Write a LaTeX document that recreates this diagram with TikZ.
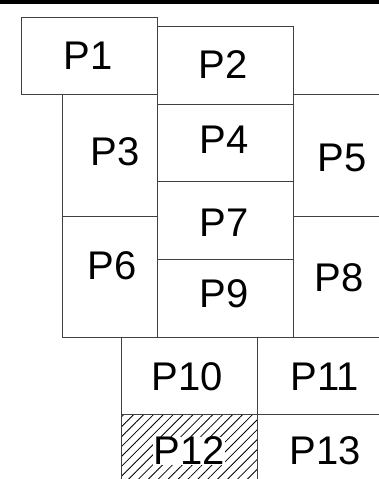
\documentclass[tikz,border=0pt]{standalone}
\usepackage{fontspec}
\setmainfont{Liberation Sans}
\usetikzlibrary{patterns.meta}
\tikzset{
  part/.style={draw=black!75, line width=1pt},
  lbl/.style={font=\fontsize{40}{40}\selectfont, inner sep=0pt},
}
\begin{document}
\begin{tikzpicture}[x=1pt,y=-1pt]
\useasboundingbox (0,0) rectangle (379,479);
\clip (0,0) rectangle (379,479);
\draw[line width=4pt] (0,2) -- (379,2);

% parts
\draw[part] (21,17) rectangle (157,94);
\draw[part] (157,26) rectangle (293,104);
\draw[part] (62,94) rectangle (157,216);
\draw[part] (157,104) rectangle (293,181);
\draw[part] (293,94) rectangle (400,216);
\draw[part] (62,216) rectangle (157,337);
\draw[part] (157,181) rectangle (293,259);
\draw[part] (157,259) rectangle (293,337);
\draw[part] (293,216) rectangle (400,337);
\draw[part] (121,337) rectangle (257,414);
\draw[part] (257,337) rectangle (400,414);
\fill[pattern={Lines[angle=45,distance=7pt,line width=0.8pt]}] (121,414) rectangle (257,490);
\draw[part] (121,414) rectangle (257,490);
\draw[part] (257,414) rectangle (400,490);

\node[lbl] (p1) at (88,56) {P1};
\node[lbl] (p2) at (223,65) {P2};
\node[lbl] (p3) at (115,152) {P3};
\node[lbl] (p4) at (224,140) {P4};
\node[lbl] (p5) at (342,158) {P5};
\node[lbl] (p6) at (112,266) {P6};
\node[lbl] (p7) at (224,223) {P7};
\node[lbl] (p8) at (339,278) {P8};
\node[lbl] (p9) at (224,294) {P9};
\node[lbl] (p10) at (187,377) {P10};
\node[lbl] (p11) at (325,377) {P11};
\node[lbl, fill=white] (p12) at (189,451) {P12};
\node[lbl] (p13) at (325,451) {P13};
\end{tikzpicture}
\end{document}
